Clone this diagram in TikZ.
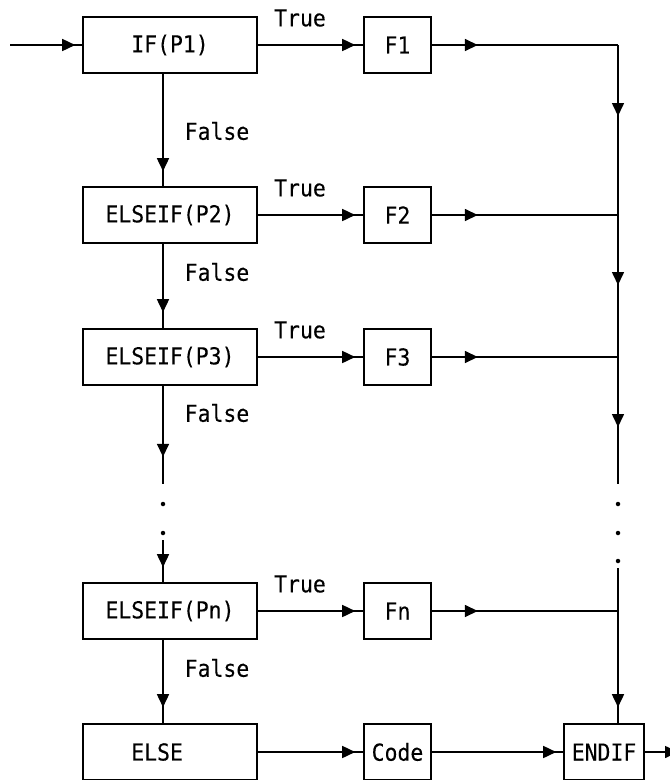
\documentclass[tikz,border=0pt]{standalone}
\usepackage{fontspec}
\newfontfamily\flowfont[FakeStretch=0.92,FakeBold=0.15]{DejaVu Sans Mono}
\usetikzlibrary{arrows.meta,decorations.markings}
\begin{document}
\begin{tikzpicture}[
    x=1pt, y=-1pt,
    >={Triangle[length=13pt,width=12pt]},
    every node/.style={font=\flowfont\fontsize{23.3}{28}\selectfont},
    box/.style={draw, line width=1.6pt, minimum height=56pt, inner sep=0pt},
    cond/.style={box, minimum width=174pt},
    act/.style={box, minimum width=67pt},
    flow/.style={line width=1.6pt},
    arrowat/.style={postaction={decorate, decoration={markings, mark=at position #1 with {\arrow{>}}}}},
    dot/.style={circle, fill, inner sep=0pt, minimum size=4.5pt}
  ]
  \useasboundingbox (0,0) rectangle (670,780);

  \node[cond] (if) at (170,45) {IF(P1)};
  \node[cond] (p2) at (170,215) {ELSEIF(P2)};
  \node[cond] (p3) at (170,357) {ELSEIF(P3)};
  \node[cond] (pn) at (170,611) {ELSEIF(Pn)};
  \node[cond] (else) at (170,752) {ELSE\phantom{II}};

  \node[act] (f1) at (397.5,45) {F1};
  \node[act] (f2) at (397.5,215) {F2};
  \node[act] (f3) at (397.5,357) {F3};
  \node[act] (fn) at (397.5,611) {Fn};
  \node[act] (code) at (397.5,752) {Code};
  \node[box, minimum width=80pt] (endif) at (604,752) {ENDIF};

  \node (t1) at (300,18) {True};
  \node (t2) at (300,188) {True};
  \node (t3) at (300,330) {True};
  \node (tn) at (300,584) {True};
  \node (e1) at (217,131) {False};
  \node (e2) at (217,272) {False};
  \node (e3) at (217,413) {False};
  \node (en) at (217,668) {False};

  \coordinate (start) at (10,45);
  \coordinate (exit) at (678,752);
  \coordinate (spine) at (163,0);
  \coordinate (bus) at (618,0);
  \coordinate (ls1) at (163,484);
  \coordinate (ls2) at (163,540);
  \coordinate (rs1) at (618,484);
  \coordinate (rs2) at (618,568);

  \node[dot] (ld1) at (163,504) {};
  \node[dot] (ld2) at (163,533) {};
  \node[dot] (rd1) at (618,504) {};
  \node[dot] (rd2) at (618,533) {};
  \node[dot] (rd3) at (618,561) {};

  \draw[flow, arrowat=-7pt] (start) -- (if.west);
  \draw[flow, arrowat=-8pt] (if.east) -- (f1.west);
  \draw[flow, arrowat=-8pt] (p2.east) -- (f2.west);
  \draw[flow, arrowat=-8pt] (p3.east) -- (f3.west);
  \draw[flow, arrowat=-8pt] (pn.east) -- (fn.west);
  \draw[flow, arrowat=-8pt] (else.east) -- (code.west);
  \draw[flow, arrowat=-7pt] (code.east) -- (endif.west);
  \draw[flow, ->] (endif.east) -- (exit);

  \draw[flow, arrowat=46pt] (f1.east) -- (bus |- f1.east);
  \draw[flow, arrowat=46pt] (f2.east) -- (bus |- f2.east);
  \draw[flow, arrowat=46pt] (f3.east) -- (bus |- f3.east);
  \draw[flow, arrowat=46pt] (fn.east) -- (bus |- fn.east);

  \draw[flow, arrowat=-15pt] (spine |- if.south) -- (spine |- p2.north);
  \draw[flow, arrowat=-16pt] (spine |- p2.south) -- (spine |- p3.north);
  \draw[flow, arrowat=71pt] (spine |- p3.south) -- (ls1);
  \draw[flow, arrowat=-15pt] (ls2) -- (spine |- pn.north);
  \draw[flow, arrowat=-16pt] (spine |- pn.south) -- (spine |- else.north);

  \draw[flow, arrowat=71pt] (bus |- f1.east) -- (bus |- f2.east);
  \draw[flow, arrowat=70pt] (bus |- f2.east) -- (bus |- f3.east);
  \draw[flow, arrowat=70pt] (bus |- f3.east) -- (rs1);
  \draw[flow, arrowat=-16pt] (rs2) -- (bus |- endif.north);
\end{tikzpicture}
\end{document}
